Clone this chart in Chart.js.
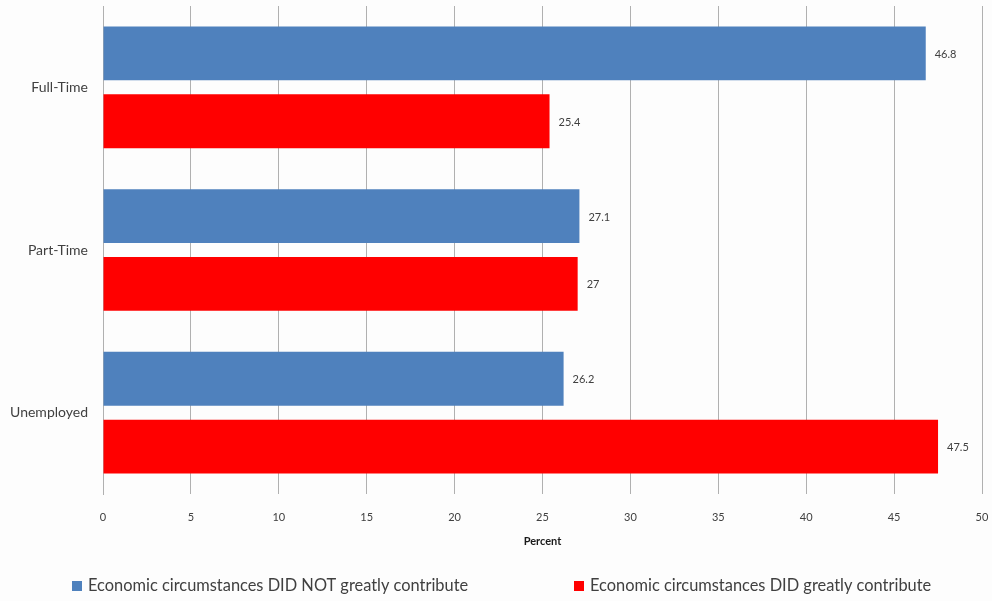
<!DOCTYPE html>
<html>
<head>
<meta charset="utf-8">
<script src="https://cdn.jsdelivr.net/npm/chart.js@4.4.0/dist/chart.umd.min.js"></script>
<style>
  html, body { margin: 0; padding: 0; background: #fdfdfd; }
  #wrap { width: 992px; height: 601px; position: relative; }
</style>
</head>
<body>
<div id="wrap"><canvas id="c" width="992" height="601"></canvas></div>
<script>
const categories = ['Full-Time', 'Part-Time', 'Unemployed'];
const seriesNames = ['Economic circumstances DID NOT greatly contribute', 'Economic circumstances DID greatly contribute'];
const didNotContribute = [46.8, 27.1, 26.2];
const didContribute = [25.4, 27, 47.5];
const xTicks = [0, 5, 10, 15, 20, 25, 30, 35, 40, 45, 50];

const FONT = 'Lato, "Open Sans", sans-serif';
const TEXT = '#404040';

const valueLabels = {
  id: 'valueLabels',
  afterDatasetsDraw(chart) {
    const ctx = chart.ctx;
    ctx.save();
    ctx.font = '11px ' + FONT;
    ctx.fillStyle = TEXT;
    ctx.textBaseline = 'middle';
    ctx.textAlign = 'left';
    chart.data.datasets.forEach((ds, i) => {
      const meta = chart.getDatasetMeta(i);
      meta.data.forEach((bar, j) => {
        ctx.fillText(String(ds.data[j]), bar.x + 9, bar.y + 1);
      });
    });
    ctx.restore();
  }
};

const bottomLegend = {
  id: 'bottomLegend',
  afterDraw(chart) {
    const ctx = chart.ctx;
    const xs = [72, 574];
    const y = 586;
    ctx.save();
    ctx.font = '16.4px ' + FONT;
    ctx.textBaseline = 'middle';
    ctx.textAlign = 'left';
    chart.data.datasets.forEach((ds, i) => {
      ctx.fillStyle = ds.backgroundColor;
      ctx.fillRect(xs[i], y - 5, 10, 10);
      ctx.fillStyle = TEXT;
      ctx.fillText(ds.label, xs[i] + 16, y);
    });
    ctx.restore();
  }
};

new Chart(document.getElementById('c'), {
  type: 'bar',
  data: {
    labels: categories,
    datasets: [
      { label: seriesNames[0], data: didNotContribute, backgroundColor: '#4F81BD', borderWidth: 0,
        categoryPercentage: 0.834, barPercentage: 0.794 },
      { label: seriesNames[1], data: didContribute, backgroundColor: '#FF0000', borderWidth: 0,
        categoryPercentage: 0.834, barPercentage: 0.794 }
    ]
  },
  options: {
    indexAxis: 'y',
    responsive: false,
    animation: false,
    layout: { padding: { top: 6, right: 10, bottom: 50, left: 0 } },
    plugins: { legend: { display: false }, tooltip: { enabled: false } },
    scales: {
      x: {
        type: 'linear',
        min: 0, max: 50,
        afterBuildTicks(scale) { scale.ticks = xTicks.map(v => ({ value: v })); },
        grid: { color: '#b0b0b0', lineWidth: 1, drawTicks: false },
        border: { display: false },
        ticks: { color: TEXT, font: { family: FONT, size: 11 }, padding: 17, maxRotation: 0 },
        title: { display: true, text: 'Percent', color: '#1a1a1a', font: { family: FONT, size: 11, weight: 'bold' }, padding: { top: 3, bottom: 3 } },
        afterFit(scale) { scale.height = 57; scale.paddingLeft = 0; scale.paddingRight = 0; }
      },
      y: {
        grid: { display: false, drawTicks: false },
        border: { display: true, color: '#b0b0b0', width: 1 },
        ticks: { color: TEXT, font: { family: FONT, size: 14 }, padding: 15 },
        afterFit(scale) { scale.width = 103; scale.paddingTop = 0; scale.paddingBottom = 0; }
      }
    }
  },
  plugins: [valueLabels, bottomLegend]
});
</script>
</body>
</html>
